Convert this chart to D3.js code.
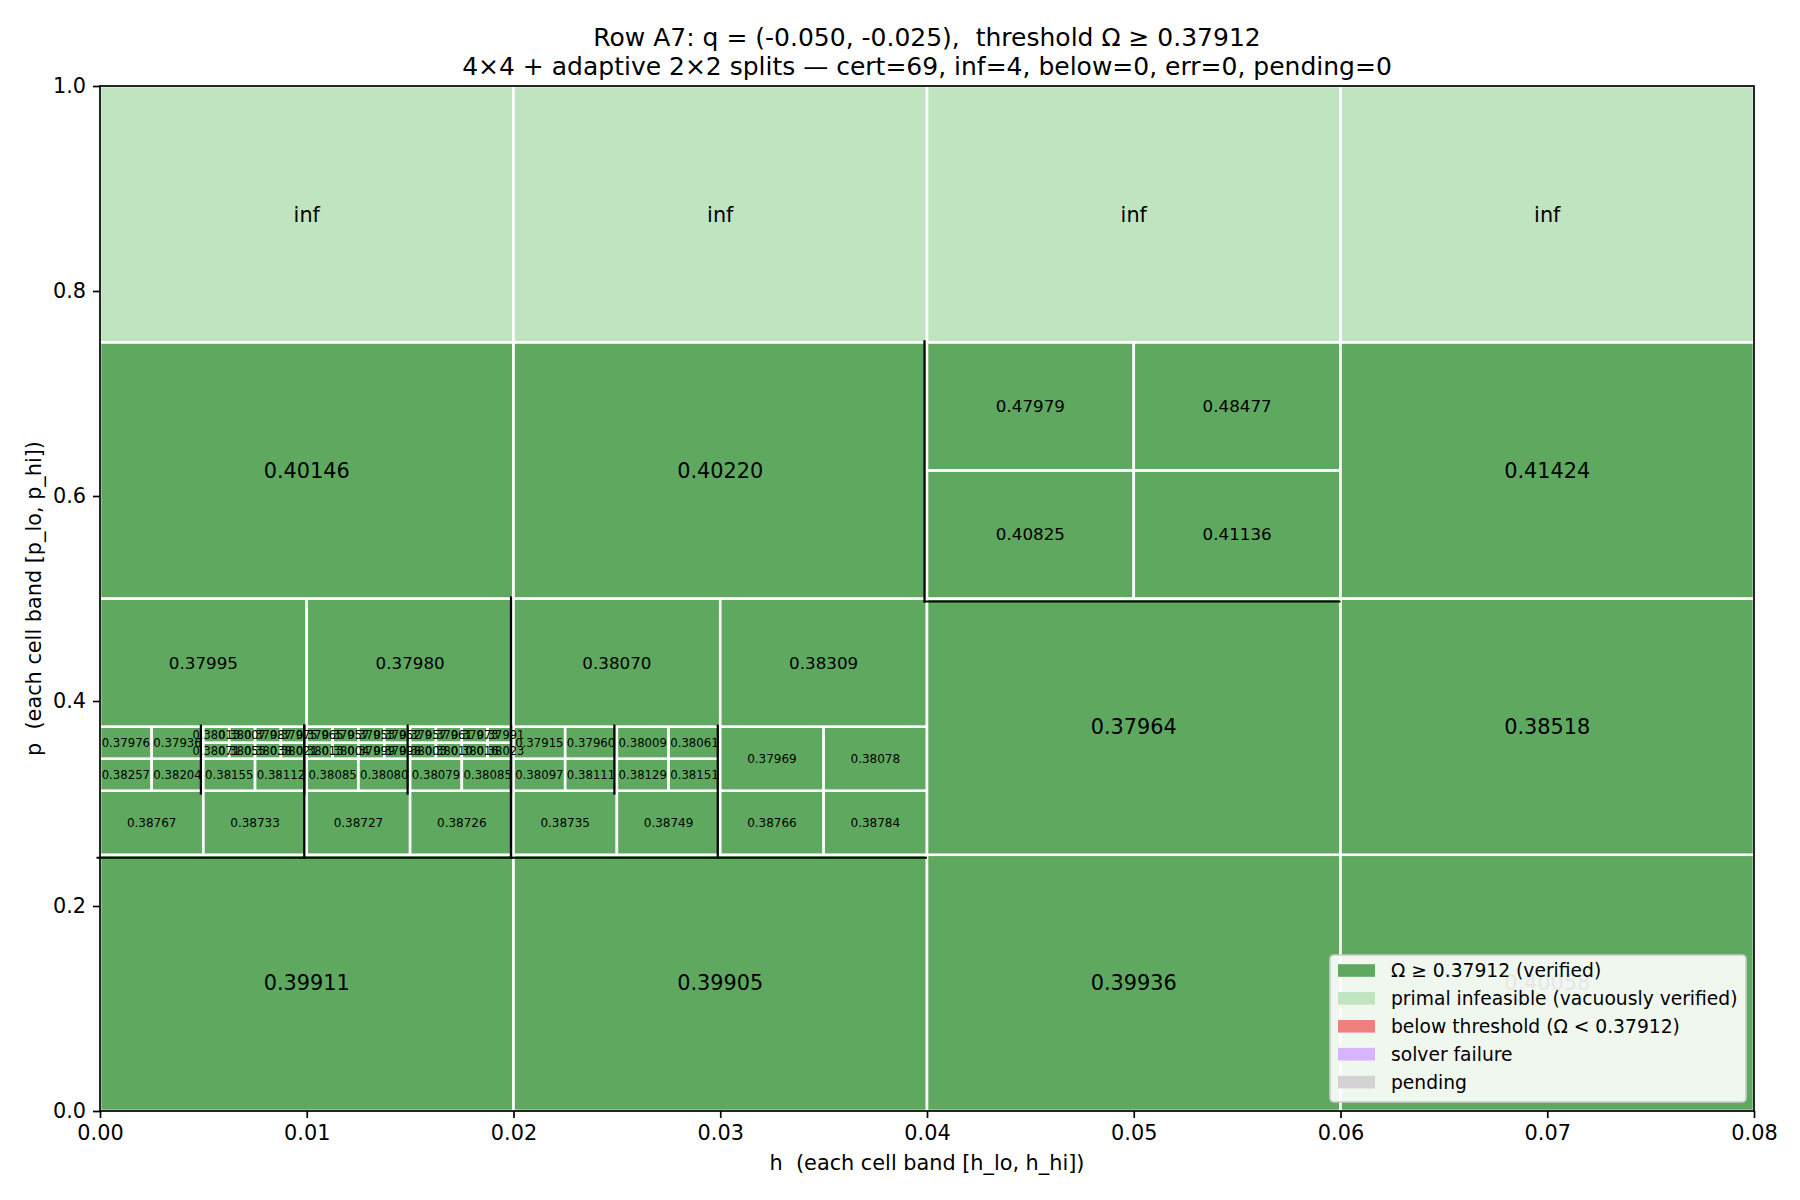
<!DOCTYPE html>
<html>
<head>
<meta charset="utf-8">
<script src="https://cdn.jsdelivr.net/npm/d3@7"></script>
<style>
  body { margin: 0; background: #fff; }
  text { font-family: 'DejaVu Sans', sans-serif; }
</style>
</head>
<body>
<div id="chart"></div>
<script>
const threshold = 0.37912;

// base 4x4 grid bands
const hBands = [0, 0.02, 0.04, 0.06, 0.08];
const pBands = [0, 0.25, 0.5, 0.75, 1.0];

// base cells, rows from p=0 upward; 'split' = refined 2x2
const baseOmega = [
  [0.39911, 0.39905, 0.39936, 0.40058],
  ['split', 'split', 0.37964, 0.38518],
  [0.40146, 0.40220, 'split', 0.41424],
  ['inf', 'inf', 'inf', 'inf'],
];

// refined parents [h_lo, h_hi, p_lo, p_hi]
const splitCells = [
  [0.04, 0.06, 0.5, 0.75],
  [0, 0.02, 0.25, 0.5],
  [0.02, 0.04, 0.25, 0.5],
  [0, 0.01, 0.25, 0.375],
  [0.01, 0.02, 0.25, 0.375],
  [0.02, 0.03, 0.25, 0.375],
  [0.03, 0.04, 0.25, 0.375],
  [0, 0.005, 0.3125, 0.375],
  [0.005, 0.01, 0.3125, 0.375],
  [0.01, 0.015, 0.3125, 0.375],
  [0.015, 0.02, 0.3125, 0.375],
  [0.02, 0.025, 0.3125, 0.375],
  [0.025, 0.03, 0.3125, 0.375],
  [0.005, 0.0075, 0.34375, 0.375],
  [0.0075, 0.01, 0.34375, 0.375],
  [0.01, 0.0125, 0.34375, 0.375],
  [0.0125, 0.015, 0.34375, 0.375],
  [0.015, 0.0175, 0.34375, 0.375],
  [0.0175, 0.02, 0.34375, 0.375],
];
// children of each parent: [bottom-left, bottom-right, top-left, top-right]
const splitOmega = [
  [0.40825, 0.41136, 0.47979, 0.48477],
  ['split', 'split', 0.37995, 0.37980],
  ['split', 'split', 0.38070, 0.38309],
  [0.38767, 0.38733, 'split', 'split'],
  [0.38727, 0.38726, 'split', 'split'],
  [0.38735, 0.38749, 'split', 'split'],
  [0.38766, 0.38784, 0.37969, 0.38078],
  [0.38257, 0.38204, 0.37976, 0.37936],
  [0.38155, 0.38112, 'split', 'split'],
  [0.38085, 0.38080, 'split', 'split'],
  [0.38079, 0.38085, 'split', 'split'],
  [0.38097, 0.38111, 0.37915, 0.37960],
  [0.38129, 0.38151, 0.38009, 0.38061],
  [0.38071, 0.38055, 0.38013, 0.38007],
  [0.38038, 0.38021, 0.37987, 0.37975],
  [0.38013, 0.38004, 0.37965, 0.37957],
  [0.37999, 0.37998, 0.37953, 0.37952],
  [0.38003, 0.38010, 0.37957, 0.37961],
  [0.38016, 0.38023, 0.37973, 0.37991],
];

const xTicks = [0, 0.01, 0.02, 0.03, 0.04, 0.05, 0.06, 0.07, 0.08];
const yTicks = [0, 0.2, 0.4, 0.6, 0.8, 1.0];

const legendItems = [
  { label: 'Ω ≥ 0.37912 (verified)', color: '#5fa85f' },
  { label: 'primal infeasible (vacuously verified)', color: '#c0e3c0' },
  { label: 'below threshold (Ω < 0.37912)', color: '#f08080' },
  { label: 'solver failure', color: '#d7b4fd' },
  { label: 'pending', color: '#d3d3d3' },
];

const width = 1800;
const height = 1200;
const margin = {top: 86, bottom: 89, left: 100, right: 46};

const svg = d3.select('#chart')
  .append('svg')
  .attr('width', width)
  .attr('height', height)
  .attr('viewBox', [0, 0, width, height]);

const x = d3.scaleLinear()
  .domain([0, 0.08])
  .range([margin.left, width - margin.right]);

const y = d3.scaleLinear()
  .domain([0, 1])
  .range([height - margin.bottom, margin.top]);

const near = (a, b) => Math.abs(a - b) < 1e-9;

// walk the refinement tree into leaf cells
const leaves = [];
const parents = [];
function addCell(h0, h1, p0, p1, v, level) {
  if (v !== 'split') {
    leaves.push({h0, h1, p0, p1, v, level});
    return;
  }
  const k = splitCells.findIndex(c => near(c[0], h0) && near(c[1], h1) && near(c[2], p0) && near(c[3], p1));
  parents.push({h0, h1, p0, p1, level});
  const hm = (h0 + h1) / 2, pm = (p0 + p1) / 2;
  const kids = splitOmega[k];
  addCell(h0, hm, p0, pm, kids[0], level + 1);
  addCell(hm, h1, p0, pm, kids[1], level + 1);
  addCell(h0, hm, pm, p1, kids[2], level + 1);
  addCell(hm, h1, pm, p1, kids[3], level + 1);
}
baseOmega.forEach((row, i) => row.forEach((v, j) => {
  addCell(hBands[j], hBands[j + 1], pBands[i], pBands[i + 1], v, 0);
}));

function cellColor(v) {
  if (v === 'inf') return legendItems[1].color;
  return v >= threshold ? legendItems[0].color : legendItems[2].color;
}

// cells
svg.append('g')
  .selectAll('rect')
  .data(leaves)
  .join('rect')
    .attr('x', d => x(d.h0))
    .attr('y', d => y(d.p1))
    .attr('width', d => x(d.h1) - x(d.h0))
    .attr('height', d => y(d.p0) - y(d.p1))
    .attr('fill', d => cellColor(d.v))
    .attr('stroke', '#fff')
    .attr('stroke-width', 2.6);

// black outline hints on refined parents
const edges = svg.append('g').attr('stroke', '#000').attr('stroke-width', 2.2).attr('fill', 'none');
parents.filter(d => d.level <= 2 && d.h0 > 0).forEach(d => {
  edges.append('line')
    .attr('x1', x(d.h0) - 2.5).attr('x2', x(d.h0) - 2.5)
    .attr('y1', y(d.p1) - 2).attr('y2', y(d.p0) + 4);
});
parents.filter(d => d.level === 0).forEach(d => {
  edges.append('line')
    .attr('x1', x(d.h0) - 3.5).attr('x2', x(d.h1))
    .attr('y1', y(d.p0) + 3).attr('y2', y(d.p0) + 3);
});

// cell labels
const labelSize = [20.8, 16.7, 12, 11.7, 11.5];
svg.append('g')
  .selectAll('text')
  .data(leaves)
  .join('text')
    .attr('x', d => (x(d.h0) + x(d.h1)) / 2)
    .attr('y', d => (y(d.p0) + y(d.p1)) / 2)
    .attr('dy', '0.36em')
    .attr('text-anchor', 'middle')
    .attr('font-size', d => labelSize[d.level])
    .attr('fill', '#000')
    .text(d => d.v === 'inf' ? 'inf' : d3.format('.5f')(d.v));

// axes
function xAxis(g) {
  g.call(d3.axisBottom(x).tickValues(xTicks).tickFormat(d3.format('.2f')).tickSize(7).tickPadding(7))
  g.attr('transform', `translate(0, ${height - margin.bottom})`)
  g.attr('font-size', '20.8px')
  g.attr('font-family', 'DejaVu Sans')
}

function yAxis(g) {
  g.call(d3.axisLeft(y).tickValues(yTicks).tickFormat(d3.format('.1f')).tickSize(7).tickPadding(7))
    .attr('transform', `translate(${margin.left}, 0)`)
    .attr('font-size', '20.8px')
    .attr('font-family', 'DejaVu Sans')
}

svg.append('g').call(xAxis).call(g => g.select('.domain').remove())
  .selectAll('line').attr('stroke-width', 1.7);
svg.append('g').call(yAxis).call(g => g.select('.domain').remove())
  .selectAll('line').attr('stroke-width', 1.7);

// frame
svg.append('rect')
  .attr('x', margin.left).attr('y', margin.top)
  .attr('width', width - margin.left - margin.right)
  .attr('height', height - margin.top - margin.bottom)
  .attr('fill', 'none').attr('stroke', '#000').attr('stroke-width', 1.7);

// axis titles
svg.append('text')
  .attr('x', (margin.left + width - margin.right) / 2)
  .attr('y', 1170)
  .attr('text-anchor', 'middle')
  .attr('font-size', 20.8)
  .style('white-space', 'pre')
  .text('h  (each cell band [h_lo, h_hi])');

svg.append('text')
  .attr('transform', `translate(41, ${(margin.top + height - margin.bottom) / 2}) rotate(-90)`)
  .attr('text-anchor', 'middle')
  .attr('font-size', 20.8)
  .style('white-space', 'pre')
  .text('p  (each cell band [p_lo, p_hi])');

// title
const titleLines = [
  'Row A7: q = (-0.050, -0.025),  threshold Ω ≥ 0.37912',
  '4×4 + adaptive 2×2 splits — cert=69, inf=4, below=0, err=0, pending=0',
];
svg.append('g')
  .selectAll('text')
  .data(titleLines)
  .join('text')
    .attr('x', (margin.left + width - margin.right) / 2)
    .attr('y', (d, i) => 46 + i * 28.5)
    .attr('text-anchor', 'middle')
    .attr('font-size', 25)
    .style('white-space', 'pre')
    .text(d => d);

// legend
const legend = svg.append('g').attr('transform', 'translate(1330, 955)');
legend.append('rect')
  .attr('width', 416).attr('height', 147)
  .attr('rx', 4)
  .attr('fill', 'rgba(255,255,255,0.9)')
  .attr('stroke', '#cccccc')
  .attr('stroke-width', 1.7);
const rows = legend.selectAll('g.item')
  .data(legendItems)
  .join('g')
    .attr('class', 'item')
    .attr('transform', (d, i) => `translate(0, ${15.5 + i * 27.9})`);
rows.append('rect')
  .attr('x', 8).attr('y', -6.3)
  .attr('width', 37).attr('height', 12.6)
  .attr('fill', d => d.color);
rows.append('text')
  .attr('x', 61).attr('dy', '0.36em')
  .attr('font-size', 18.7)
  .text(d => d.label);
</script>
</body>
</html>
